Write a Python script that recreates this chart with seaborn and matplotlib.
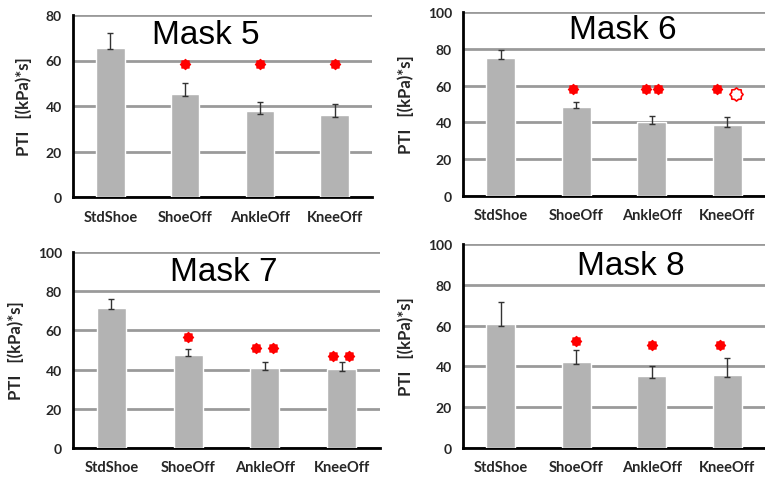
import numpy as np
import matplotlib
matplotlib.use("Agg")
import matplotlib.pyplot as plt
from matplotlib.path import Path
import seaborn as sns

categories = ["StdShoe", "ShoeOff", "AnkleOff", "KneeOff"]
titles = ["Mask 5", "Mask 6", "Mask 7", "Mask 8"]
y_max = [80, 100, 100, 100]

# bar means, upper error end, lower error end
means = [
    [65.5, 45.3, 37.6, 36.1],
    [75.2, 48.4, 40.2, 38.4],
    [71.5, 47.7, 40.9, 40.4],
    [60.8, 42.0, 35.1, 35.8],
]
err_hi = [
    [72.0, 50.3, 41.9, 40.7],
    [79.3, 51.1, 43.5, 42.9],
    [75.8, 50.6, 44.1, 44.1],
    [71.4, 48.0, 40.0, 44.0],
]
err_lo = [
    [65.0, 44.4, 36.7, 35.3],
    [74.3, 47.8, 39.3, 37.5],
    [70.7, 46.9, 40.0, 39.2],
    [59.6, 41.2, 34.3, 35.0],
]

# significance markers: category index, y value, filled or open
star_cat = [
    [1, 2, 3],
    [1, 2, 2, 3, 3],
    [1, 2, 2, 3, 3],
    [1, 2, 3],
]
star_y = [
    [58.4, 58.4, 58.4],
    [58.0, 58.0, 58.0, 58.0, 55.6],
    [56.6, 51.1, 51.1, 46.9, 46.9],
    [52.6, 50.6, 50.6],
]
star_filled = [
    [True, True, True],
    [True, True, True, True, False],
    [True, True, True, True, True],
    [True, True, True],
]
star_dx = [
    [0, 0, 0],
    [-0.04, -0.08, 0.08, -0.13, 0.11],
    [0, -0.12, 0.1, -0.11, 0.09],
    [0, 0, -0.09],
]
title_pos = [(0.445, 0.895), (0.53, 0.905), (0.49, 0.90), (0.556, 0.894)]

sns.set_style("white")
plt.rcParams["font.family"] = ["Lato", "DejaVu Sans"]

W, H = 765, 481
fig = plt.figure(figsize=(W / 100, H / 100), dpi=100)

# axes boxes in pixels: left, right, top, bottom
boxes = [(73, 372, 16, 198), (463, 765, 13, 197), (73, 380, 253, 449), (463, 765, 245, 449)]

bar_color = "#b3b3b3"
grid_color = "#9a9a9a"

# soft 8-lobed star, like the blobs in the original
n_pts = 8
ang = np.linspace(0, 2 * np.pi, 2 * n_pts, endpoint=False) + np.pi / 2
rad = np.where(np.arange(2 * n_pts) % 2 == 0, 1.0, 0.8)
verts = np.column_stack([rad * np.cos(ang), rad * np.sin(ang)])
verts = np.vstack([verts, verts[:1]])
codes = [Path.MOVETO] + [Path.LINETO] * (2 * n_pts - 1) + [Path.CLOSEPOLY]
star_marker = Path(verts, codes)

for i, (l, r, t, b) in enumerate(boxes):
    ax = fig.add_axes([l / W, 1 - b / H, (r - l) / W, (b - t) / H])
    sns.barplot(x=categories, y=means[i], color=bar_color, width=0.38,
                saturation=1, ax=ax, zorder=3)
    x = np.arange(len(categories))
    m = np.array(means[i])
    yerr = [m - np.array(err_lo[i]), np.array(err_hi[i]) - m]
    ax.errorbar(x, m, yerr=yerr, fmt="none", ecolor="#333333", elinewidth=1,
                capsize=2.5, capthick=1, zorder=4)

    sx = np.array(star_cat[i]) + np.array(star_dx[i])
    sy = np.array(star_y[i])
    filled = np.array(star_filled[i])
    ax.scatter(sx[filled], sy[filled], marker=star_marker, s=70, color="#ff0000",
               linewidths=0, zorder=5)
    if (~filled).any():
        ax.scatter(sx[~filled], sy[~filled], marker=star_marker, s=90,
                   facecolors="white", edgecolors="#ff0000", linewidths=1.2, zorder=5)

    ax.set_ylim(0, y_max[i])
    ax.set_xlim(-0.5, 3.5)
    ax.set_yticks(np.arange(0, y_max[i] + 1, 20))
    ax.yaxis.grid(True, color=grid_color, linewidth=2, zorder=0)
    ax.set_axisbelow(True)
    for sp in ["top", "right"]:
        ax.spines[sp].set_visible(False)
    for sp in ["left", "bottom"]:
        ax.spines[sp].set_color("black")
        ax.spines[sp].set_linewidth(2)

    ax.set_xticks(x)
    ax.set_xticks(np.arange(-0.5, 4.0, 1.0), minor=True)
    ax.tick_params(axis="x", which="major", length=0, pad=9, labelsize=10.5,
                   labelcolor="#262626")
    ax.tick_params(axis="x", which="minor", direction="out", length=5, width=2,
                   color="black")
    ax.tick_params(axis="y", direction="inout", length=8, width=1.5, color="black",
                   labelsize=10, labelcolor="#262626", pad=4)
    for lab in ax.get_xticklabels() + ax.get_yticklabels():
        lab.set_fontweight("bold")

    ax.set_xlabel("")
    ax.set_ylabel("PTI   [(kPa)*s]", fontsize=12, fontweight="bold", color="#262626",
                  labelpad=10)
    tx, ty = title_pos[i]
    ax.text(tx, ty, titles[i], transform=ax.transAxes, ha="center", va="center",
            fontsize=24, family="Liberation Sans", color="black", zorder=6)

fig.savefig("out.png", dpi=100)
